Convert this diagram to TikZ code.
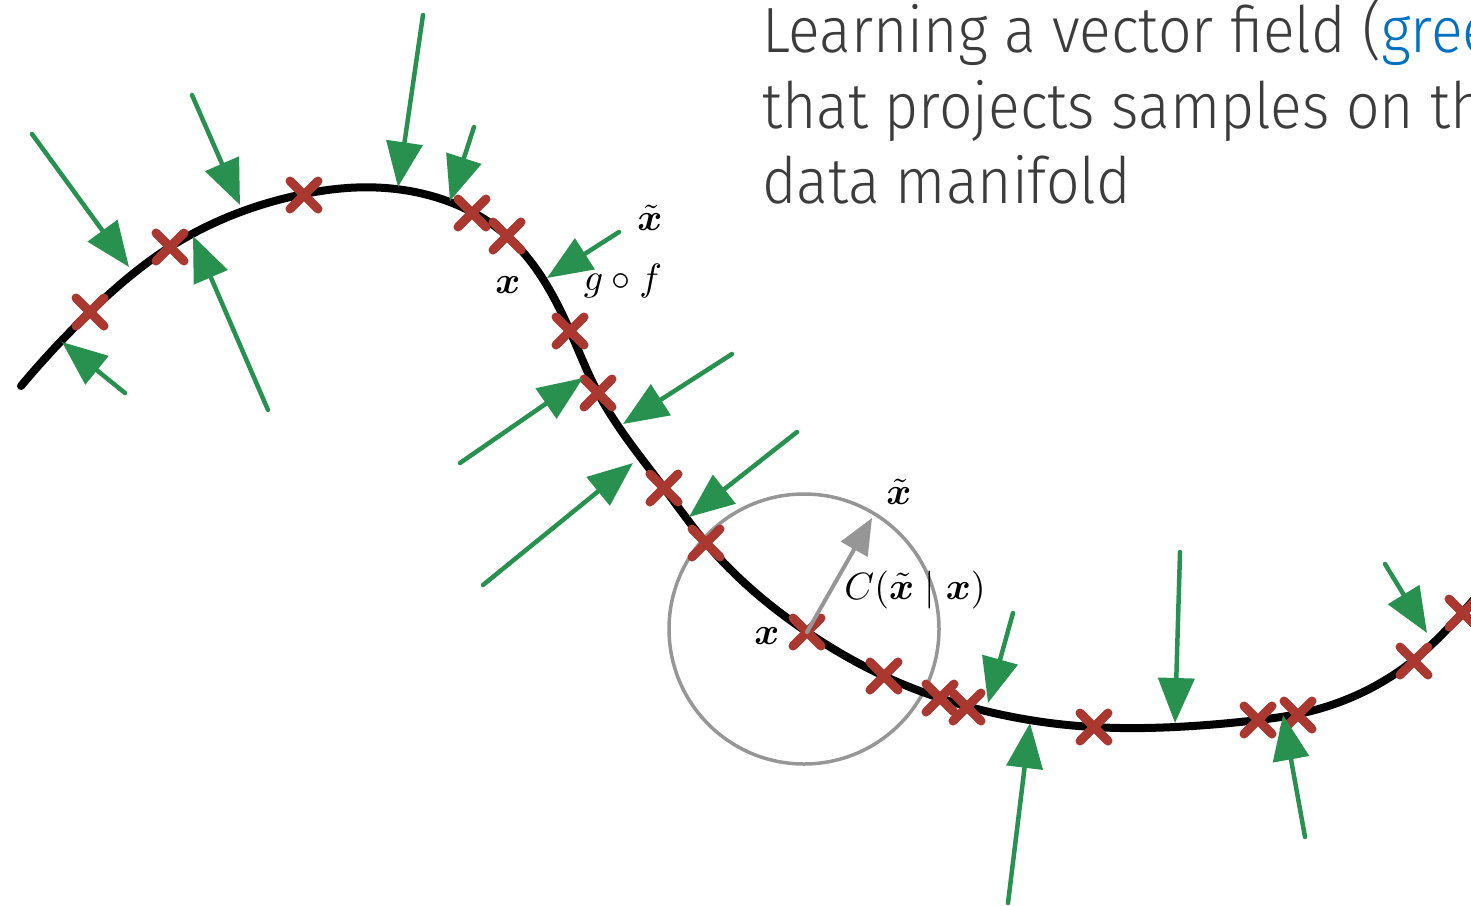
\documentclass[tikz,border=0pt]{standalone}
\usepackage{fontspec}
\usepackage{amsmath,bm}
\usetikzlibrary{arrows.meta,shapes.misc,hobby}
\newfontfamily\titlefont[FakeStretch=0.92]{Fira Sans Light}
\definecolor{fgreen}{RGB}{40,145,80}
\definecolor{xred}{RGB}{170,55,48}
\definecolor{cgray}{RGB}{150,150,150}
\definecolor{tgray}{RGB}{60,60,60}
\definecolor{tblue}{RGB}{0,112,192}
\tikzset{
  manifold/.style={line width=8pt,line cap=round,black},
  sample/.style={cross out,draw=xred,line width=9pt,line cap=round,minimum size=19pt,inner sep=0pt},
  field/.style={fgreen,line width=4.5pt,line cap=round,-{Triangle[length=45pt,width=36pt]}},
  noise/.style={cgray,line width=4pt,line cap=round,-{Triangle[length=36pt,width=30pt]}},
  mlabel/.style={scale=3.8,inner sep=0pt},
  ttext/.style={anchor=base west,text=tgray,inner sep=0pt,font=\titlefont\fontsize{64}{75}\selectfont}
}
\begin{document}
\begin{tikzpicture}[x=1pt,y=-1pt]
\useasboundingbox (0,0) rectangle (1471,905);
\clip (0,0) rectangle (1471,905);
% title text
\node[ttext] (t1) at (762,52) {Learning a vector field (\textcolor{tblue}{green})};
\node[ttext] (t2) at (762,128) {that projects samples on the};
\node[ttext] (t3) at (762,203) {data manifold};
% noise circle
\node[circle,draw=cgray,line width=3.5pt,minimum size=270pt,inner sep=0pt] (ball) at (804,629) {};
% manifold
\draw[manifold,use Hobby shortcut] (21,386) .. (90,312) .. (170,247) .. (304,194) .. (347,188)
 .. (472,212) .. (507,236) .. (570,331) .. (598,393) .. (664,488) .. (706,543) .. (807,632)
 .. (884,676) .. (966,706) .. (1093,727) .. (1175,727) .. (1258,720) .. (1298,714)
 .. (1414,660) .. (1462,613) .. (1482,590);
% gray arrow
\coordinate (xt2) at (872,518);
\node[sample] (s10) at (807,632) {};
\draw[noise] (s10.center) -- (xt2);
% samples
\node[sample] (s1) at (90,312) {};
\node[sample] (s2) at (170,247) {};
\node[sample] (s3) at (304,195) {};
\node[sample] (s4) at (472,213) {};
\node[sample] (s5) at (507,236) {};
\node[sample] (s6) at (570,331) {};
\node[sample] (s7) at (598,393) {};
\node[sample] (s8) at (664,488) {};
\node[sample] (s9) at (706,543) {};
\node[sample] (s11) at (884,676) {};
\node[sample] (s12) at (940,698) {};
\node[sample] (s13) at (967,707) {};
\node[sample] (s14) at (1094,727) {};
\node[sample] (s15) at (1258,720) {};
\node[sample] (s16) at (1298,715) {};
\node[sample] (s17) at (1414,661) {};
\node[sample] (s18) at (1463,613) {};
% green field arrows
\coordinate (a1) at (32,134);   \coordinate (b1) at (129,267);
\coordinate (a2) at (192,95);   \coordinate (b2) at (240,205);
\coordinate (a3) at (268,410);  \coordinate (b3) at (193,236);
\coordinate (a4) at (125,393);  \coordinate (b4) at (62,342);
\coordinate (a5) at (423,15);   \coordinate (b5) at (398,187);
\coordinate (a6) at (474,127);  \coordinate (b6) at (450,201);
\coordinate (a7) at (619,232);  \coordinate (b7) at (547,278);
\coordinate (a8) at (460,463);  \coordinate (b8) at (583,378);
\coordinate (a9) at (732,354);  \coordinate (b9) at (623,424);
\coordinate (a10) at (483,585); \coordinate (b10) at (633,463);
\coordinate (a11) at (797,432); \coordinate (b11) at (689,517);
\coordinate (a12) at (1013,613);\coordinate (b12) at (988,703);
\coordinate (a13) at (1180,552);\coordinate (b13) at (1175,723);
\coordinate (a14) at (1008,903);\coordinate (b14) at (1030,723);
\coordinate (a15) at (1305,837);\coordinate (b15) at (1283,715);
\coordinate (a16) at (1385,564);\coordinate (b16) at (1427,633);
\foreach \i in {1,...,16} {\draw[field] (a\i) -- (b\i);}
% labels
\node[mlabel] (lxt1) at (650,218) {$\tilde{\bm{x}}$};
\node[mlabel] (lx1) at (508,285) {$\bm{x}$};
\node[mlabel] (lgf) at (623,281) {$g\circ f$};
\node[mlabel] (lxt2) at (899,492) {$\tilde{\bm{x}}$};
\node[mlabel] (lc) at (915,590) {$C(\tilde{\bm{x}}\mid\bm{x})$};
\node[mlabel] (lx2) at (767,636) {$\bm{x}$};
\end{tikzpicture}
\end{document}
